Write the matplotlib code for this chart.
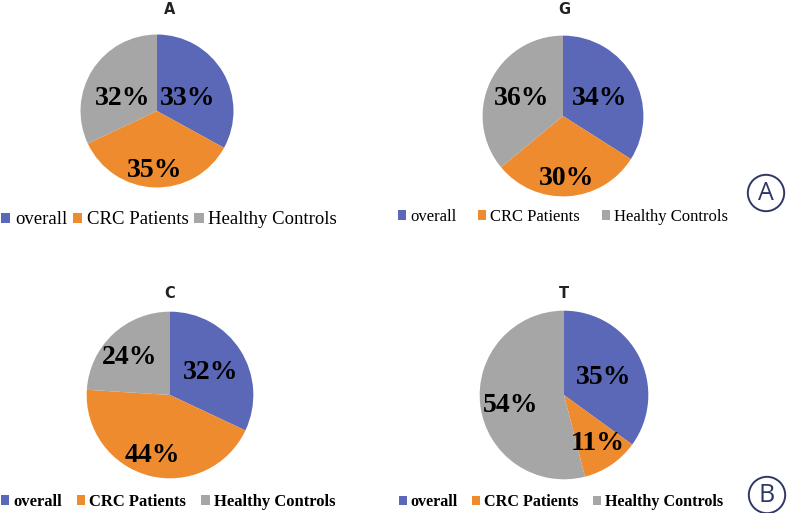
import matplotlib
matplotlib.use("Agg")
import matplotlib.pyplot as plt
from matplotlib.patches import Circle, Patch

# categories and values (percent)
categories = ["overall", "CRC Patients", "Healthy Controls"]
titles = ["A", "G", "C", "T"]
vals_A = [33, 35, 32]
vals_G = [34, 30, 36]
vals_C = [32, 44, 24]
vals_T = [35, 11, 54]
all_vals = [vals_A, vals_G, vals_C, vals_T]

colors = ["#5B68B8", "#EE8B2E", "#A6A6A6"]

W, H = 788, 513

# layout in pixels: pie centre x, centre y, radius
pie_xy = [(157, 111, 78), (563, 116, 82), (170, 395, 85), (564, 395, 86)]
title_y = [10, 10, 293, 293]
title_x = [170, 564, 170, 564]
# label spots in radius units, one per slice
label_pos = [
    [(0.40, 0.16), (-0.03, -0.78), (-0.45, 0.16)],
    [(0.45, 0.22), (0.04, -0.78), (-0.52, 0.22)],
    [(0.49, 0.27), (-0.21, -0.73), (-0.49, 0.45)],
    [(0.47, 0.21), (0.40, -0.58), (-0.63, -0.12)],
]
# legend: centre x, centre y, font size, bold, column spacing
leg_opts = [
    (169, 220, 13.5, "normal", 0.3),
    (563, 217, 12, "normal", 1.3),
    (168, 502, 12, "bold", 0.9),
    (561, 502, 11.6, "bold", 0.9),
]

fig = plt.figure(figsize=(W / 100, H / 100), dpi=100)

for i in range(4):
    cx, cy, r = pie_xy[i]
    ax = fig.add_axes([(cx - r) / W, (H - cy - r) / H, 2 * r / W, 2 * r / H])
    wedges, _ = ax.pie(all_vals[i], colors=colors, startangle=90, counterclock=False,
                       radius=1, wedgeprops=dict(linewidth=0))
    ax.set_xlim(-1.02, 1.02)
    ax.set_ylim(-1.02, 1.02)
    ax.axis("off")
    for j, v in enumerate(all_vals[i]):
        lx, ly = label_pos[i][j]
        ax.text(lx, ly, str(v) + "%", ha="center", va="center", fontsize=20,
                fontweight="bold", family="Liberation Serif", color="black")

    fig.text(title_x[i] / W, 1 - title_y[i] / H, titles[i], ha="center", va="center",
             fontsize=10.5, fontweight="bold", family="DejaVu Sans", color="#222222")

    lx, ly, fs, fw, cs = leg_opts[i]
    handles = [Patch(facecolor=c, edgecolor="none") for c in colors]
    fig.legend(handles, categories, loc="center", bbox_to_anchor=(lx / W, 1 - ly / H),
               ncol=3, frameon=False, handlelength=0.5, handleheight=0.5,
               handletextpad=0.25, columnspacing=cs, borderaxespad=0,
               prop={"family": "Liberation Serif", "size": fs, "weight": fw})

# circled panel letters
for letter, (px, py) in zip(["A", "B"], [(766, 193), (767, 495)]):
    rr = 18
    cax = fig.add_axes([(px - rr - 2) / W, (H - py - rr - 2) / H, 2 * (rr + 2) / W, 2 * (rr + 2) / H])
    cax.set_xlim(-1.1, 1.1)
    cax.set_ylim(-1.1, 1.1)
    cax.set_aspect("equal")
    cax.axis("off")
    cax.add_patch(Circle((0, 0), 1.0, fill=False, edgecolor="#2E3866", linewidth=1.4))
    cax.text(0, 0, letter, ha="center", va="center", fontsize=18, family="Open Sans",
             color="#2E3866")

fig.savefig("out.png", dpi=100)
